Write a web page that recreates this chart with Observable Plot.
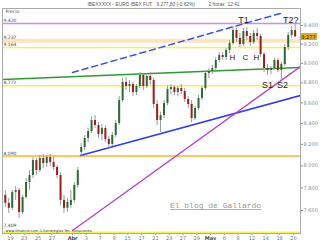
<!DOCTYPE html>
<html><head><meta charset="utf-8">
<script src="https://cdn.jsdelivr.net/npm/d3@7"></script>
<script src="https://cdn.jsdelivr.net/npm/@observablehq/plot@0.6"></script>
<style>
html,body{margin:0;padding:0;background:#fff;}
#chart{width:320px;height:240px;overflow:hidden;}
</style></head><body><div id="chart"></div>
<script>
// ---- data (2-hour candles, two per trading session, starting 18 Mar afternoon) ----
const open = [7.733,7.663,7.619,7.760,7.777,7.583,7.715,7.849,7.912,8.049,
7.957,8.068,8.021,8.077,8.031,7.985,7.912,7.689,7.619,7.645,
7.689,7.822,8.124,8.171,8.256,8.322,8.428,8.380,8.294,8.351,
8.246,8.199,8.284,8.399,8.624,8.804,8.764,8.784,8.703,8.764,
8.875,8.764,8.865,8.824,8.584,8.428,8.476,8.594,8.733,8.753,
8.703,8.743,8.713,8.634,8.584,8.447,8.545,8.644,8.743,8.895,
8.916,8.947,9.029,9.081,9.061,9.134,9.208,9.346,9.261,9.197,
9.335,9.282,9.218,9.314,9.282,9.092,8.947,8.926,8.947,9.029,
8.926,8.988,9.165,9.293,9.346];
const high = [7.777,7.706,7.777,7.813,7.795,7.733,7.885,7.957,8.077,8.068,
8.096,8.105,8.096,8.105,8.086,8.003,7.939,7.733,7.706,7.777,
7.849,7.985,8.208,8.284,8.351,8.467,8.476,8.409,8.389,8.380,
8.275,8.313,8.428,8.664,8.844,8.855,8.824,8.804,8.784,8.906,
8.885,8.895,8.906,8.844,8.624,8.506,8.624,8.764,8.784,8.774,
8.764,8.784,8.743,8.664,8.624,8.564,8.673,8.764,8.926,8.947,
8.978,9.061,9.113,9.113,9.155,9.239,9.389,9.368,9.314,9.368,
9.378,9.314,9.346,9.368,9.303,9.113,8.988,8.967,9.050,9.050,
9.009,9.197,9.325,9.389,9.411];
const low = [7.628,7.574,7.600,7.689,7.530,7.565,7.698,7.777,7.885,7.912,
7.939,7.976,7.985,7.994,7.957,7.885,7.645,7.574,7.583,7.619,
7.663,7.795,8.086,8.142,8.218,8.303,8.351,8.256,8.237,8.218,
8.161,8.180,8.265,8.380,8.604,8.723,8.703,8.664,8.673,8.743,
8.723,8.743,8.774,8.545,8.380,8.313,8.447,8.574,8.683,8.673,
8.664,8.683,8.604,8.545,8.409,8.428,8.525,8.624,8.723,8.844,
8.885,8.926,9.009,9.029,9.029,9.102,9.186,9.218,9.165,9.176,
9.239,9.176,9.197,9.239,9.061,8.906,8.875,8.885,8.926,8.906,
8.824,8.967,9.134,9.261,9.271];
const close = [7.663,7.619,7.760,7.777,7.583,7.715,7.849,7.912,8.049,7.957,
8.068,8.021,8.077,8.031,7.985,7.912,7.689,7.619,7.672,7.689,
7.822,7.957,8.171,8.256,8.322,8.428,8.380,8.294,8.351,8.246,
8.199,8.284,8.399,8.624,8.804,8.764,8.784,8.703,8.764,8.875,
8.764,8.865,8.824,8.584,8.428,8.476,8.594,8.733,8.753,8.703,
8.743,8.713,8.634,8.584,8.447,8.545,8.644,8.743,8.895,8.916,
8.947,9.029,9.081,9.061,9.134,9.208,9.346,9.261,9.197,9.335,
9.282,9.218,9.314,9.282,9.092,8.947,8.926,8.947,9.029,8.926,
8.988,9.165,9.293,9.346,9.277];

// trading-session index of each x tick label (18 Mar = 0)
const tickDay   = [1,3,5,7,10,12,14,16,18,20,22,24,26,28,30,32,34,36,38,40,42];
const tickLabel = ["19","23","25","27","Abr","3","7","9","15","17","21","23","27","29","May","6","8","12","14","18","20"];
const yTicks = [7.6,7.8,8.0,8.2,8.4,8.6,8.8,9.0,9.2,9.4];

// horizontal levels
const levelValue = [9.420, 9.237, 9.164, 8.772, 8.090, 7.409];
const levelLabel = ["9.420","9.237","9.164","8.772","8.090","7.409"];

// trend lines (session index, price) endpoints
const trendName = ["green","blue","blueDash","purple"];
const trendT0 = [-0.16, 11.14, 9.99, 9.99];
const trendP0 = [8.834, 8.096, 8.906, 7.427];
const trendT1 = [43.03, 43.03, 40.57, 43.03];
const trendP1 = [8.957, 8.674, 9.541, 8.967];

// pattern annotations
const annLabel = ["T1","T2?","H","C","H","S1","S2"];
const annT = [34.77, 41.6, 33.17, 35.06, 36.65, 38.25, 40.42];
const annP = [9.46, 9.46, 9.061, 9.061, 9.061, 8.774, 8.774];

const titleParts = ["IBEXXXXX - EURO IBEX FUT","9.277,80 (-0.62%)","2 horas","12:41"];
const watermark = "El blog de Gallardo";
const sourceNote = "www.ifinance.com ©Estrategias Tec. Soluciones";
const lastLabel = "9.277";

// ---- build ----
const candles = close.map((c, i) => ({t: 0.25 + 0.5 * i, o: open[i], h: high[i], l: low[i], c}));
const levels = levelValue.map((v, i) => ({v, label: levelLabel[i]}));
const levelStyle = [
  {stroke: "#c98ff0", w: 1.5},
  {stroke: "#fde3c2", w: 4},
  {stroke: "#f4f05c", w: 1.5},
  {stroke: "#f4f05c", w: 1.5},
  {stroke: "#ffb52e", w: 1.5},
  {stroke: "#f4f05c", w: 2.5}
];
const trendStyle = {
  green: {stroke: "#2f9a35", w: 1.5},
  blue: {stroke: "#2f3fe6", w: 1.6},
  blueDash: {stroke: "#3a52ea", w: 1.5, dash: "6,4"},
  purple: {stroke: "#b443c8", w: 1.3}
};
const trends = trendName.map((n, i) => ({n, pts: [{t: trendT0[i], p: trendP0[i]}, {t: trendT1[i], p: trendP1[i]}]}));
const ann = annLabel.map((s, i) => ({s, t: annT[i], p: annP[i]}));
const ticks = tickDay.map((d, i) => ({d, s: tickLabel[i], month: /[A-Za-z]/.test(tickLabel[i])}));
const titleDx = [85, 154, 206, 225];
const lastLevel = levels.length - 1;

const marks = [];
levels.forEach((lv, i) => marks.push(Plot.ruleY([lv.v], {stroke: levelStyle[i].stroke, strokeWidth: levelStyle[i].w})));
trends.forEach(tr => {
  const st = trendStyle[tr.n];
  marks.push(Plot.line(tr.pts, {x: "t", y: "p", stroke: st.stroke, strokeWidth: st.w, strokeDasharray: st.dash, clip: true}));
});
marks.push(
  Plot.ruleX(candles, {x: "t", y1: "l", y2: "h", stroke: "#9a9a9a", strokeWidth: 1}),
  Plot.ruleX(candles, {x: "t", y1: "o", y2: "c", stroke: d => d.c >= d.o ? "#2e6b34" : "#9b1c1c", strokeWidth: 2}),
  Plot.text(levels.slice(0, lastLevel), {y: "v", text: "label", frameAnchor: "left", textAnchor: "start", dx: 1, dy: -3, fontSize: 4.5, fill: "#444"}),
  Plot.text(levels.slice(lastLevel), {y: "v", text: "label", frameAnchor: "left", textAnchor: "start", dx: 1, dy: -7, fontSize: 4.5, fill: "#444"}),
  Plot.text(ann.filter(a => a.s.length > 1), {x: "t", y: "p", text: "s", fontSize: 9, fill: "#222", fontFamily: "Liberation Sans"}),
  Plot.text(ann.filter(a => a.s.length === 1), {x: "t", y: "p", text: "s", fontSize: 8, fill: "#222", fontFamily: "Liberation Sans"}),
  Plot.text([watermark], {x: () => 30.71, y: () => 7.644, text: d => d, fontSize: 8, fill: "#999", fontFamily: "Liberation Mono"}),
  Plot.text([sourceNote], {frameAnchor: "bottom-left", dx: 3, dy: -2.5, lineAnchor: "middle", textAnchor: "start", fontSize: 3.6, fill: "#444"}),
  Plot.text(["Precio"], {frameAnchor: "top-left", dx: 3, dy: 3, lineAnchor: "middle", textAnchor: "start", fontSize: 4.5, fill: "#444"}),
  ...titleParts.map((s, i) => Plot.text([s], {frameAnchor: "top-left", dx: titleDx[i], dy: -4, lineAnchor: "middle", textAnchor: "start", fontSize: 4.8, fill: "#555", fontFamily: "Liberation Sans"})),
  Plot.axisY({anchor: "right", ticks: yTicks, tickFormat: d => d.toFixed(3), tickSize: 2, tickPadding: 1, fontSize: 5, color: "#888", label: null}),
  Plot.axisX({ticks: tickDay, tickFormat: () => "", tickSize: 2, label: null, color: "#999"}),
  Plot.text(ticks.filter(t => !t.month), {x: "d", text: "s", frameAnchor: "bottom", dy: 5, lineAnchor: "middle", fontSize: 5, fill: "#777"}),
  Plot.text(ticks.filter(t => t.month), {x: "d", text: "s", frameAnchor: "bottom", dy: 5, lineAnchor: "middle", fontSize: 5, fontWeight: "bold", fill: "#444"}),
  Plot.text([close[close.length - 1]], {y: d => d, text: () => lastLabel, frameAnchor: "right", dx: 8, textAnchor: "middle", fontSize: 5, fill: "#222"}),
  Plot.frame({stroke: "#aaa"})
);

const svg = Plot.plot({
  width: 320, height: 240,
  marginLeft: 2, marginRight: 20, marginTop: 8, marginBottom: 7,
  x: {domain: [-0.16, 43.03], axis: null},
  y: {type: "log", domain: [7.402, 9.585], axis: null},
  style: {background: "#fff", fontFamily: "DejaVu Sans", overflow: "visible"},
  marks
});
document.getElementById("chart").appendChild(svg);

// price box behind the last-price label, underline under the watermark
const NS = "http://www.w3.org/2000/svg";
const texts = [...svg.querySelectorAll("text")];
const priceText = texts.find(e => e.textContent === lastLabel && e.closest("g[aria-label='text']"));
if (priceText) {
  const bb = priceText.getBBox();
  const r = document.createElementNS(NS, "rect");
  r.setAttribute("x", bb.x - 1.5); r.setAttribute("y", bb.y - 0.5);
  r.setAttribute("width", bb.width + 3); r.setAttribute("height", bb.height + 1);
  if (priceText.getAttribute("transform")) r.setAttribute("transform", priceText.getAttribute("transform"));
  r.setAttribute("fill", "#e3a91e");
  priceText.parentNode.insertBefore(r, priceText);
}
const wm = texts.find(e => e.textContent === watermark);
if (wm) {
  const bb = wm.getBBox();
  const l = document.createElementNS(NS, "line");
  l.setAttribute("x1", bb.x); l.setAttribute("x2", bb.x + bb.width);
  l.setAttribute("y1", bb.y + bb.height - 0.5); l.setAttribute("y2", bb.y + bb.height - 0.5);
  if (wm.getAttribute("transform")) l.setAttribute("transform", wm.getAttribute("transform"));
  l.setAttribute("stroke", "#999"); l.setAttribute("stroke-width", "0.8");
  wm.parentNode.appendChild(l);
}
</script></body></html>
